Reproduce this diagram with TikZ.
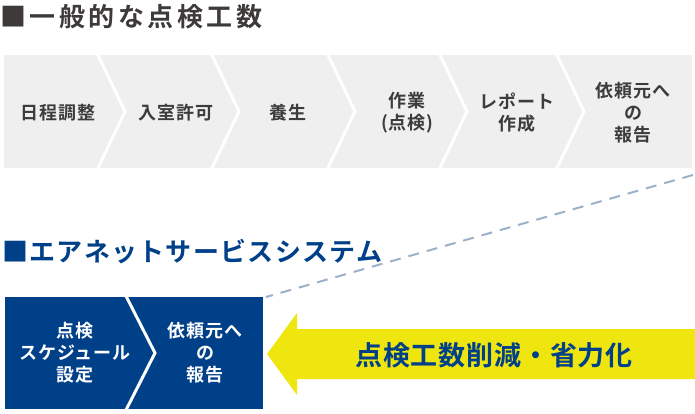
\documentclass[tikz,border=0pt]{standalone}
\usepackage{fontspec}
\setmainfont{Noto Sans CJK JP}[BoldFont={Noto Sans CJK JP Bold}]

\definecolor{bandgray}{HTML}{EFEFEF}
\definecolor{labelgray}{HTML}{3C3C3C}
\definecolor{titlegray}{HTML}{3E3A39}
\definecolor{airblue}{HTML}{004088}
\definecolor{cutyellow}{HTML}{F0E60F}
\definecolor{dashblue}{HTML}{9DB2C8}

\newcommand{\labelfont}{\fontsize{18}{22}\selectfont\bfseries\addfontfeature{LetterSpace=4}}
\newcommand{\headfont}{\fontsize{26}{30}\selectfont\bfseries}
\newcommand{\cutfont}{\fontsize{27}{32}\selectfont\bfseries\addfontfeature{LetterSpace=3}}

\begin{document}
\begin{tikzpicture}[x=1pt,y=-1pt,
			every node/.style={inner sep=0pt,align=center},
			gray label/.style={text=labelgray,font=\labelfont},
			box label/.style={text=white,font=\labelfont},
			sep line/.style={white,line width=3pt}]

			\useasboundingbox (0,0) rectangle (695,414);

			\node[anchor=west,text=titlegray,font=\headfont\addfontfeature{LetterSpace=13.5}] (headOld) at (0,17) {■一般的な点検工数};
			\node[anchor=west,text=airblue,font=\headfont\addfontfeature{LetterSpace=5}] (headNew) at (2,252) {■エアネットサービスシステム};

			\fill[bandgray] (4,55) rectangle (692,168);
			\foreach \x in {98,212,328,440,557}
				\draw[sep line] (\x-1,53) -- (\x+27,111.5) -- (\x-1,170);

			\node[gray label] (plan) at (58,113) {日程調整};
			\node[gray label] (entry) at (176,113) {入室許可};
			\node[gray label] (cover) at (288,113) {養生};
			\node[gray label] (work) at (407,113) {作業\\(点検)};
			\node[gray label] (report) at (517,113) {レポート\\作成};
			\node[gray label] (notifyOld) at (633,113) {依頼元へ\\の\\報告};

			\fill[airblue] (5,297) rectangle (263,409);
			\draw[sep line] (126,296) -- (155,353) -- (126,410);

			\node[box label] (sched) at (75,353) {点検\\スケジュール\\設定};
			\node[box label] (notifyNew) at (205,353) {依頼元へ\\の\\報告};

			\coordinate (bandEnd) at (693,175);
			\coordinate (boxEnd) at (266,297);
			\draw[dashblue,line width=2pt,dash pattern=on 11pt off 8pt] (bandEnd) -- (boxEnd);

			\fill[cutyellow] (695,329) -- (297,329) -- (297,313) -- (267,354) -- (297,395) -- (297,379) -- (695,379) -- cycle;
			\node[text=airblue,font=\cutfont] (cut) at (494,355) {点検工数削減・省力化};

		\end{tikzpicture}
\end{document}
